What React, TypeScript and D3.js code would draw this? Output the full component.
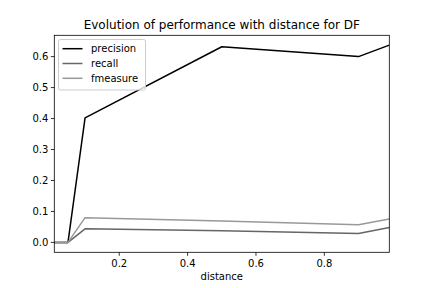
import React, { useEffect, useRef } from "react";
import * as d3 from "d3";

const distances = [0.01, 0.05, 0.1, 0.5, 0.9, 0.99];
const precision = [0, 0, 0.402, 0.632, 0.6, 0.637];
const recall = [0, 0, 0.044, 0.038, 0.029, 0.048];
const fmeasure = [0, 0, 0.08, 0.069, 0.057, 0.076];
const seriesNames = ["precision", "recall", "fmeasure"];
const seriesColors = ["#000000", "#666666", "#999999"];
const xTicks = [0.2, 0.4, 0.6, 0.8];
const yTicks = [0, 0.1, 0.2, 0.3, 0.4, 0.5, 0.6];

const App: React.FC = () => {
  const svgRef = useRef<SVGSVGElement>(null);

  useEffect(() => {
    if (!svgRef.current) return;
    const svg = d3.select(svgRef.current);
    svg.selectAll("*").remove();

    const width = 432;
    const height = 288;
    const left = 54.3;
    const right = 389.3;
    const top = 35.3;
    const bottom = 252.3;
    const font = "DejaVu Sans, sans-serif";

    svg.append("rect").attr("width", width).attr("height", height).attr("fill", "#fff");

    const x = d3.scaleLinear().domain([0.01, 0.99]).range([left, right]);
    const yMax = d3.max(precision) as number;
    const pad = yMax * 0.05;
    const y = d3.scaleLinear().domain([-pad, yMax + pad]).range([bottom, top]);

    const series = [precision, recall, fmeasure];
    const line = d3
      .line<number>()
      .x((_, i) => x(distances[i]))
      .y((d) => y(d));

    const g = svg.append("g");
    g.append("defs")
      .append("clipPath")
      .attr("id", "clip")
      .append("rect")
      .attr("x", left)
      .attr("y", top)
      .attr("width", right - left)
      .attr("height", bottom - top);

    // lines
    series.forEach((vals, i) => {
      g.append("path")
        .datum(vals)
        .attr("d", line)
        .attr("fill", "none")
        .attr("stroke", seriesColors[i])
        .attr("stroke-width", 1.5)
        .attr("stroke-linejoin", "round")
        .attr("clip-path", "url(#clip)");
    });

    // frame
    g.append("rect")
      .attr("x", left)
      .attr("y", top)
      .attr("width", right - left)
      .attr("height", bottom - top)
      .attr("fill", "none")
      .attr("stroke", "#000")
      .attr("stroke-width", 0.8);

    // x ticks
    xTicks.forEach((t) => {
      g.append("line")
        .attr("x1", x(t))
        .attr("x2", x(t))
        .attr("y1", bottom)
        .attr("y2", bottom + 3.5)
        .attr("stroke", "#000")
        .attr("stroke-width", 0.8);
      g.append("text")
        .attr("x", x(t))
        .attr("y", bottom + 14.5)
        .attr("text-anchor", "middle")
        .attr("font-family", font)
        .attr("font-size", 10)
        .attr("fill", "#000")
        .text(d3.format(".1f")(t));
    });

    // y ticks
    yTicks.forEach((t) => {
      g.append("line")
        .attr("x1", left - 3.5)
        .attr("x2", left)
        .attr("y1", y(t))
        .attr("y2", y(t))
        .attr("stroke", "#000")
        .attr("stroke-width", 0.8);
      g.append("text")
        .attr("x", left - 6)
        .attr("y", y(t))
        .attr("dy", "0.35em")
        .attr("text-anchor", "end")
        .attr("font-family", font)
        .attr("font-size", 10)
        .attr("fill", "#000")
        .text(d3.format(".1f")(t));
    });

    // labels
    g.append("text")
      .attr("x", (left + right) / 2)
      .attr("y", bottom + 28)
      .attr("text-anchor", "middle")
      .attr("font-family", font)
      .attr("font-size", 10)
      .text("distance");

    g.append("text")
      .attr("x", (left + right) / 2)
      .attr("y", top - 6)
      .attr("text-anchor", "middle")
      .attr("font-family", font)
      .attr("font-size", 12)
      .text("Evolution of performance with distance for DF");

    // legend
    const lg = g.append("g");
    lg.append("rect")
      .attr("x", 58.5)
      .attr("y", 39.5)
      .attr("width", 87)
      .attr("height", 50.5)
      .attr("rx", 2)
      .attr("fill", "#fff")
      .attr("fill-opacity", 0.8)
      .attr("stroke", "#cccccc")
      .attr("stroke-width", 1);
    seriesNames.forEach((name, i) => {
      const ly = 48.7 + i * 14.8;
      lg.append("line")
        .attr("x1", 62.5)
        .attr("x2", 82.5)
        .attr("y1", ly)
        .attr("y2", ly)
        .attr("stroke", seriesColors[i])
        .attr("stroke-width", 1.5);
      lg.append("text")
        .attr("x", 91)
        .attr("y", ly)
        .attr("dy", "0.35em")
        .attr("font-family", font)
        .attr("font-size", 10)
        .attr("fill", "#000")
        .text(name);
    });

    return () => {
      svg.selectAll("*").remove();
    };
  }, []);

  return (
    <svg
      ref={svgRef}
      width={432}
      height={288}
      style={{ position: "absolute", left: 0, top: 0, display: "block" }}
    />
  );
};

export default App;
